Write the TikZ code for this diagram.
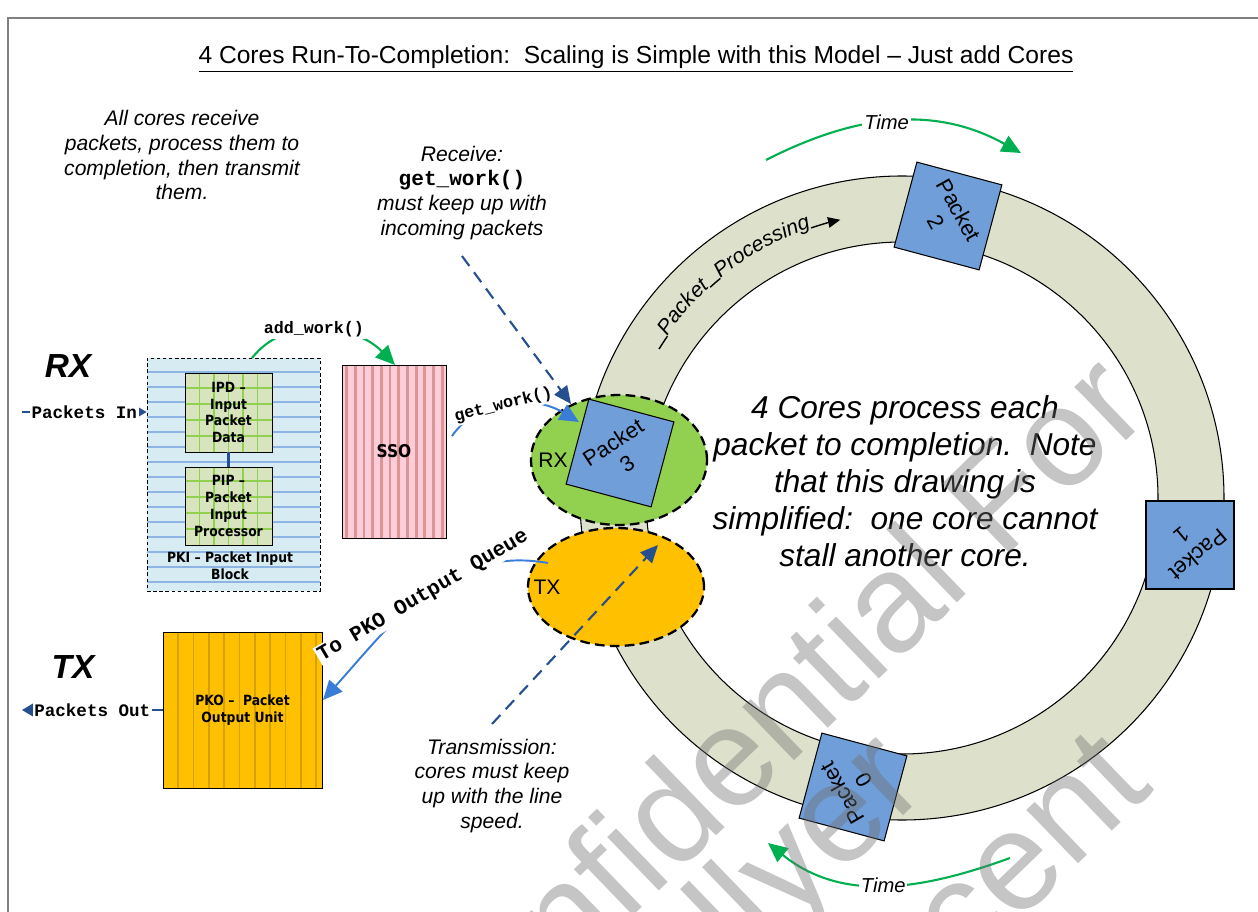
\documentclass[tikz,border=0pt]{standalone}
\usepackage{fontspec}
\setmainfont{Liberation Sans}
\setmonofont{Liberation Mono}
\newfontfamily\blockfont{DejaVu Sans}[FakeStretch=0.88]
\usetikzlibrary{arrows.meta,shapes.geometric,decorations.text}

\definecolor{framegray}{RGB}{128,128,128}
\definecolor{ringfill}{RGB}{221,225,204}
\definecolor{pktblue}{RGB}{112,158,216}
\definecolor{rxgreen}{RGB}{146,208,80}
\definecolor{txorange}{RGB}{255,192,0}
\definecolor{navy}{RGB}{37,79,142}
\definecolor{skyblue}{RGB}{58,125,214}
\definecolor{arrgreen}{RGB}{0,176,80}
\definecolor{pkifill}{RGB}{214,235,242}
\definecolor{pkiline}{RGB}{141,180,226}
\definecolor{ipdfill}{RGB}{215,228,189}
\definecolor{ipdgrid}{RGB}{146,208,80}
\definecolor{ssofill}{RGB}{255,204,218}
\definecolor{ssostripe}{RGB}{217,150,148}
\definecolor{pkostripe}{RGB}{214,160,0}
\definecolor{wmgray}{RGB}{110,110,110}

\newcommand\ppfont{\fontsize{12}{14}\selectfont\itshape}

\begin{document}
\begin{tikzpicture}[x=0.02cm,y=0.02cm,
  note/.style={font=\fontsize{12}{14.2}\selectfont\itshape, align=center, inner sep=0pt},
  packet/.style={draw, line width=0.6pt, fill=pktblue, minimum size=1.76cm, inner sep=0pt},
  pkttext/.style={font=\fontsize{12.5}{14.5}\selectfont, align=center, inner sep=0pt},
  core/.style={ellipse, draw, line width=1.3pt, dash pattern=on 5.5pt off 3pt, minimum width=3.52cm},
  corelabel/.style={font=\fontsize{12}{14}\selectfont, inner sep=0pt},
  navydash/.style={navy, line width=1.2pt, dash pattern=on 7pt off 4.5pt, -{Triangle[length=10pt,width=9pt]}},
  navyarrow/.style={navy, line width=1.2pt, -{Triangle[length=7pt,width=8pt]}},
  skyarrow/.style={skyblue, line width=1.1pt, -{Triangle[length=11pt,width=10pt]}},
  greenarrow/.style={arrgreen, line width=1.2pt, -{Triangle[length=11pt,width=10pt]}},
  ringline/.style={line width=0.8pt},
  codelabel/.style={font=\fontsize{9.5}{11}\selectfont\ttfamily\bfseries, fill=white, inner sep=1pt},
  timelabel/.style={font=\fontsize{11.5}{13}\selectfont\itshape, fill=white, inner sep=1pt, text=black},
  blocktext/.style={font=\blockfont\bfseries\fontsize{8}{9.5}\selectfont, align=center, inner sep=0pt},
  bigside/.style={font=\fontsize{19}{22}\selectfont\bfseries\itshape, inner sep=0pt},
  wmark/.style={font=\fontsize{80}{90}\selectfont, text=wmgray, opacity=0.4, inner sep=0pt}
]
\useasboundingbox (0,0) rectangle (1258,-912);
\fill[white] (0,0) rectangle (1258,-912);

% page frame
\draw[framegray, line width=1.6pt] (8,-916) -- (8,-18) -- (1262,-18);

% heading
\node[font=\fontsize{14}{16}\selectfont, inner sep=0pt] (title) at (636,-59)
  {\underline{4 Cores Run-To-Completion:\ \ Scaling is Simple with this Model – Just add Cores}};

% processing ring
\coordinate (c) at (902,-498);
\fill[ringfill, even odd rule] (c) circle[radius=322] (c) circle[radius=256];
\draw[line width=0.6pt] (c) circle[radius=322];
\draw[line width=0.6pt] (c) circle[radius=256];

% time arrows
\coordinate (t1a) at (766,-160);
\coordinate (t1b) at (1021,-153);
\draw[greenarrow] (t1a) to[out=27,in=151] node[timelabel, pos=0.47] (time1) {Time} (t1b);
\coordinate (t2a) at (1010,-858);
\coordinate (t2b) at (768,-843);
\draw[greenarrow] (t2a) to[out=200,in=-39] node[timelabel, pos=0.5] (time2) {Time} (t2b);

% packet processing label along the ring
\draw[ringline] ([shift={(148.5:285)}]c) arc[start angle=148.5,end angle=145.4,radius=285];
\path[decorate, decoration={text along path, text align=left, text format delimiters={|}{|},
  text={|\ppfont|Packet}}] ([shift={(145.4:285)}]c) arc[start angle=145.4,end angle=130.5,radius=285];
\draw[ringline] ([shift={(132.3:285)}]c) arc[start angle=132.3,end angle=129.6,radius=285];
\path[decorate, decoration={text along path, text align=left, text format delimiters={|}{|},
  text={|\ppfont|Processing}}] ([shift={(129.6:285)}]c) arc[start angle=129.6,end angle=106,radius=285];
\draw[ringline, -{Triangle[length=7pt,width=6pt]}] ([shift={(108.6:285)}]c) arc[start angle=108.6,end angle=102.5,radius=285];

% packets on the ring
\node[packet, rotate=-15] (pk2) at (948,-216) {};
\node[pkttext, rotate=-61] (pk2t) at (pk2.center) {Packet\\2};
\node[packet] (pk1) at (1190,-545) {};
\node[pkttext, rotate=-140] (pk1t) at (pk1.center) {Packet\\1};
\node[packet, rotate=-15] (pk0) at (853,-787) {};
\node[pkttext, rotate=120] (pk0t) at (pk0.center) {Packet\\0};

% receive and transmit cores
\node[core, fill=rxgreen, minimum height=2.6cm] (rx) at (619,-460) {};
\node[corelabel] (rxl) at (553,-460) {RX};
\node[core, fill=txorange, minimum height=2.36cm] (tx) at (616,-587) {};
\node[corelabel] (txl) at (547,-587) {TX};
\node[packet, rotate=-15] (pk3) at (620,-453) {};
\node[pkttext, rotate=33] (pk3t) at (pk3.center) {Packet\\3};

% notes
\node[note] (allcores) at (182,-155) {All cores receive\\packets, process them to\\completion, then transmit\\them.};
\node[note] (recv) at (462,-193) {Receive:\\{\upshape\ttfamily\bfseries get\_work()}\\must keep up with\\incoming packets};
\node[note] (xmit) at (492,-786) {Transmission:\\cores must keep\\up with the line\\speed.};
\node[font=\fontsize{18}{21}\selectfont\itshape, align=center, inner sep=0pt] (center) at (905,-481)
  {4 Cores process each\\packet to completion.\ \ Note\\that this drawing is\\simplified:\ \ one core cannot\\stall another core.};

% dashed pointers from the notes
\coordinate (recvtail) at (462,-256);
\coordinate (recvtip) at (571,-404);
\draw[navydash] (recvtail) -- (recvtip);
\coordinate (xmittail) at (492,-724);
\coordinate (xmittip) at (658,-545);
\draw[navydash] (xmittail) -- (xmittip);

% side labels
\node[bigside] (rxside) at (68,-366) {RX};
\node[bigside] (txside) at (73,-667) {TX};

% packet input block
\node[draw, line width=0.5pt, dash pattern=on 2pt off 1.5pt, fill=pkifill,
  minimum width=3.46cm, minimum height=4.66cm, inner sep=0pt,
  path picture={
    \foreach \i in {0,...,14}
      \draw[pkiline, solid, line width=1.1pt]
        ([yshift=-0.28cm-\i*0.3cm]path picture bounding box.north west) --
        ([yshift=-0.28cm-\i*0.3cm]path picture bounding box.north east);
  }] (pki) at (233.5,-474.5) {};
\node[draw, line width=0.5pt, fill=ipdfill, minimum width=1.74cm, minimum height=1.58cm, inner sep=0pt,
  path picture={
    \foreach \i in {1,...,5}
      \draw[ipdgrid, line width=1pt]
        ([xshift=\i*0.29cm]path picture bounding box.south west) --
        ([xshift=\i*0.29cm]path picture bounding box.north west);
    \foreach \i in {1,...,4}
      \draw[ipdgrid, line width=1pt]
        ([yshift=\i*0.32cm]path picture bounding box.south west) --
        ([yshift=\i*0.32cm]path picture bounding box.south east);
  }] (ipd) at (228.5,-412.5) {};
\node[blocktext] (ipdt) at (ipd.center) {IPD –\\Input\\Packet\\Data};
\node[draw, line width=0.5pt, fill=ipdfill, minimum width=1.74cm, minimum height=1.56cm, inner sep=0pt,
  path picture={
    \foreach \i in {1,...,5}
      \draw[ipdgrid, line width=1pt]
        ([xshift=\i*0.29cm]path picture bounding box.south west) --
        ([xshift=\i*0.29cm]path picture bounding box.north west);
    \foreach \i in {1,...,4}
      \draw[ipdgrid, line width=1pt]
        ([yshift=\i*0.32cm]path picture bounding box.south west) --
        ([yshift=\i*0.32cm]path picture bounding box.south east);
  }] (pip) at (228.5,-506) {};
\node[blocktext] (pipt) at (pip.center) {PIP –\\Packet\\Input\\Processor};
\draw[navy, line width=1.2pt] (ipd.south) -- (pip.north);
\node[blocktext] (pkit) at (230,-566) {PKI – Packet Input\\Block};

% schedule / synchronize / order unit
\node[draw, line width=0.5pt, fill=ssofill, minimum width=2.08cm, minimum height=3.46cm, inner sep=0pt,
  path picture={
    \foreach \i in {0,...,11}
      \draw[ssostripe, line width=1.6pt]
        ([xshift=0.09cm+\i*0.174cm]path picture bounding box.south west) --
        ([xshift=0.09cm+\i*0.174cm]path picture bounding box.north west);
  }] (sso) at (394,-451.5) {};
\node[blocktext, font=\blockfont\bfseries\fontsize{10}{12}\selectfont] (ssot) at (sso.center) {SSO};

% packet output unit
\node[draw, line width=0.5pt, fill=txorange, minimum width=3.18cm, minimum height=3.12cm, inner sep=0pt,
  path picture={
    \foreach \i in {1,...,10}
      \draw[pkostripe, line width=1pt]
        ([xshift=\i*0.306cm]path picture bounding box.south west) --
        ([xshift=\i*0.306cm]path picture bounding box.north west);
  }] (pko) at (242.5,-710) {};
\node[blocktext] (pkot) at (pko.center) {PKO –\ \ Packet\\Output Unit};

% packets in / out
\coordinate (insrc) at (22,-412);
\draw[navyarrow] (insrc) -- (insrc -| pki.west)
  node[midway, fill=white, inner sep=1pt, font=\fontsize{10}{12}\selectfont\ttfamily\bfseries, text=black] (pin) {Packets In};
\coordinate (outdst) at (22,-710);
\draw[navyarrow] (pko.west) -- (outdst)
  node[midway, fill=white, inner sep=1pt, font=\fontsize{10}{12}\selectfont\ttfamily\bfseries, text=black] (pout) {Packets Out};

% work flow arrows
\coordinate (addsrc) at (252,-358);
\coordinate (adddst) at (395,-365);
\draw[greenarrow] (addsrc) to[out=52,in=134] node[codelabel, pos=0.45, text=black] (addl) {add\_work()} (adddst);
\coordinate (getsrc) at (452,-436);
\coordinate (getdst) at (579,-422);
\draw[skyarrow] (getsrc) to[out=55,in=149] node[codelabel, pos=0.45, rotate=14, text=black] (getl) {get\_work()} (getdst);
\coordinate (pkosrc) at (548,-563);
\coordinate (pkodst) at (323,-700);
\draw[skyarrow] (pkosrc) to[out=170,in=48] node[codelabel, font=\fontsize{12}{14}\selectfont\ttfamily\bfseries, pos=0.5, rotate=30.5, text=black] (pkol) {To PKO Output Queue} (pkodst);

% watermark
\node[wmark, rotate=44, anchor=base west] (wm1) at (439,-1104) {Confidential For};
\node[wmark, rotate=44, anchor=base east] (wm2) at (930,-790) {Collyer};
\node[wmark, rotate=44, anchor=base east] (wm3) at (1156,-789) {Vincent};
\end{tikzpicture}
\end{document}
